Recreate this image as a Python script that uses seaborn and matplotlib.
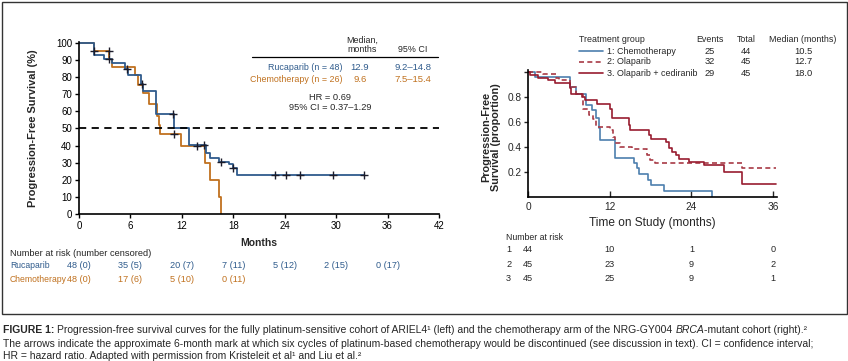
import matplotlib
matplotlib.use("Agg")
import matplotlib.pyplot as plt
import matplotlib.transforms as mtransforms
from matplotlib.lines import Line2D
from matplotlib.patches import Rectangle
import pandas as pd
import seaborn as sns

W, H = 848, 361

# ---- left panel (ARIEL4) ----
RUCA_T = [0, 1.7, 2.9, 3.9, 5.4, 5.7, 7.2, 7.5, 9.0, 11.1, 12.8, 14.8, 15.3, 16.3, 17.5, 18.0, 18.4, 33.3]
RUCA_S = [100, 93, 90.5, 88.5, 85, 81, 76, 72, 58.5, 50.5, 40.5, 35.5, 33, 30.5, 29, 27, 23, 23]
RUCA_CENS_T = [3.5, 5.6, 7.4, 11.0, 14.6, 16.6, 18.0, 22.9, 24.1, 25.8, 29.6, 33.3]
RUCA_CENS_S = [90.5, 85, 76, 58.5, 40.5, 30.5, 27, 23, 23, 23, 23, 23]

CHEMO_T = [0, 1.8, 3.55, 3.9, 6.5, 6.9, 7.5, 8.2, 9.1, 9.3, 9.5, 11.9, 14.7, 15.3, 16.35, 16.6]
CHEMO_S = [100, 95.5, 90.5, 86, 81, 75.5, 70.5, 64.5, 57, 52, 47, 39.5, 30, 20, 10, 0]
CHEMO_CENS_T = [1.8, 3.5, 11.1, 13.8]
CHEMO_CENS_S = [95.5, 95.5, 47, 39.5]

LEFT_XTICKS = [0, 6, 12, 18, 24, 30, 36, 42]
LEFT_YTICKS = list(range(0, 101, 10))
RUCA_RISK = ["48 (0)", "35 (5)", "20 (7)", "7 (11)", "5 (12)", "2 (15)", "0 (17)"]
CHEMO_RISK = ["48 (0)", "17 (6)", "5 (10)", "0 (11)"]

# ---- right panel (NRG-GY004) ----
CT_T = [0, 1.0, 6.1, 7.0, 8.5, 9.3, 10.0, 10.4, 10.6, 12.7, 15.5, 16.0, 16.3, 17.6, 18.1, 20.0, 27.0]
CT_S = [1.0, 0.96, 0.88, 0.82, 0.73, 0.69, 0.63, 0.55, 0.45, 0.31, 0.27, 0.23, 0.18, 0.13, 0.09, 0.045, 0.0]
OLA_T = [0, 2.2, 4.1, 4.5, 6.1, 7.0, 8.0, 8.1, 9.0, 9.5, 10.0, 12.0, 12.5, 12.8, 13.5, 15.2, 17.4, 17.9, 18.6, 31.5, 36.4]
OLA_S = [1.0, 0.98, 0.95, 0.93, 0.88, 0.82, 0.80, 0.70, 0.65, 0.62, 0.56, 0.53, 0.48, 0.43, 0.40, 0.38, 0.33, 0.29, 0.27, 0.23, 0.23]
OC_T = [0, 0.3, 1.5, 2.9, 3.9, 6.1, 6.3, 7.9, 8.3, 10.1, 12.0, 12.3, 14.8, 15.0, 17.7, 18.0, 20.2, 20.7, 21.2,
        21.7, 22.2, 23.6, 25.8, 28.8, 31.4, 36.4]
OC_S = [1.0, 0.97, 0.95, 0.93, 0.91, 0.87, 0.82, 0.80, 0.77, 0.74, 0.70, 0.63, 0.57, 0.53, 0.49, 0.46, 0.44, 0.39,
        0.36, 0.33, 0.30, 0.28, 0.25, 0.20, 0.10, 0.10]

RIGHT_XTICKS = [0, 12, 24, 36]
RIGHT_YTICKS = [0.2, 0.4, 0.6, 0.8, 1.0]
RIGHT_YLABELS = ["0.2", "0.4", "0.6", "0.8", ""]
GROUPS = ["1: Chemotherapy", "2: Olaparib", "3. Olaparib + cediranib"]
EVENTS = ["25", "32", "29"]
TOTALS = ["44", "45", "45"]
MEDIANS = ["10.5", "12.7", "18.0"]
RISK_ROWS = [["44", "10", "1", "0"], ["45", "23", "9", "2"], ["45", "25", "9", "1"]]

BLUE_L = "#2f5b8c"
ORANGE_L = "#c0711f"
BLUE_R = "#4d7fae"
RED_DASH = "#a83a45"
RED_SOLID = "#981c30"


def fx(x):
    return x / W


def fy(y):
    return 1 - y / H


def main():
    sns.set_theme(style="ticks")
    plt.rcParams["font.family"] = ["Liberation Sans", "DejaVu Sans"]
    fig = plt.figure(figsize=(W / 100, H / 100), dpi=100)

    # ================= left panel =================
    ax1 = fig.add_axes([fx(79), fy(214), (439 - 79) / W, (214 - 42) / H])
    left = pd.concat([
        pd.DataFrame({"time": RUCA_T, "surv": RUCA_S, "arm": "Rucaparib"}),
        pd.DataFrame({"time": CHEMO_T, "surv": CHEMO_S, "arm": "Chemotherapy"}),
    ])
    sns.lineplot(data=left, x="time", y="surv", hue="arm",
                 palette={"Rucaparib": BLUE_L, "Chemotherapy": ORANGE_L},
                 hue_order=["Chemotherapy", "Rucaparib"],
                 estimator=None, drawstyle="steps-post", lw=1.3, legend=False, ax=ax1)
    sns.scatterplot(x=RUCA_CENS_T + CHEMO_CENS_T, y=RUCA_CENS_S + CHEMO_CENS_S, marker="+",
                    s=28, color="#1c1c2a", linewidth=1.0, ax=ax1, zorder=4)
    ax1.axhline(50, color="black", ls=(0, (4, 3)), lw=1.3)
    ax1.set_xlim(0, 42)
    ax1.set_ylim(0, 100.5)
    ax1.set_xticks(LEFT_XTICKS)
    ax1.set_yticks(LEFT_YTICKS)
    ax1.tick_params(labelsize=7, length=3, width=1, colors="black", pad=2)
    sns.despine(ax=ax1)
    for s in ("left", "bottom"):
        ax1.spines[s].set_linewidth(1.2)
        ax1.spines[s].set_color("black")
    ax1.set_xlabel("Months", fontsize=7.5, fontweight="bold")
    ax1.xaxis.set_label_coords(0.5, -0.14)
    ax1.set_ylabel("Progression-Free Survival (%)", fontsize=7.9, fontweight="bold")
    ax1.yaxis.set_label_coords(-0.115, 0.5)

    # summary table
    fs = 6.4
    fig.text(fx(362), fy(45), "Median,\nmonths", ha="center", va="center", fontsize=fs,
             linespacing=0.95)
    fig.text(fx(413), fy(50), "95% CI", ha="center", va="center", fontsize=fs)
    fig.add_artist(Line2D([fx(252), fx(438)], [fy(57), fy(57)], color="black", lw=0.9))
    for y, name, med, ci, c in [(68, "Rucaparib (n = 48)", "12.9", "9.2–14.8", BLUE_L),
                                (80, "Chemotherapy (n = 26)", "9.6", "7.5–15.4", ORANGE_L)]:
        fig.text(fx(343), fy(y), name, ha="right", va="center", fontsize=fs, color=c)
        fig.text(fx(360), fy(y), med, ha="center", va="center", fontsize=fs + 0.4, color=c)
        fig.text(fx(413), fy(y), ci, ha="center", va="center", fontsize=fs + 0.4, color=c)
    fig.text(fx(330), fy(97), "HR = 0.69", ha="center", va="center", fontsize=fs + 0.3)
    fig.text(fx(330), fy(108), "95% CI = 0.37–1.29", ha="center", va="center", fontsize=fs + 0.3)

    # number at risk
    tr1 = mtransforms.blended_transform_factory(ax1.transData, fig.transFigure)
    fig.text(fx(10), fy(253), "Number at risk (number censored)", ha="left", va="center", fontsize=6.7)
    fig.text(fx(10), fy(266), "Rucaparib", ha="left", va="center", fontsize=6.2, color=BLUE_L)
    fig.text(fx(10), fy(279), "Chemotherapy", ha="left", va="center", fontsize=6.2, color=ORANGE_L)
    for x, v in zip(LEFT_XTICKS, RUCA_RISK):
        fig.text(x, fy(266), v, transform=tr1, ha="center", va="center", fontsize=6.6, color=BLUE_L)
    for x, v in zip(LEFT_XTICKS, CHEMO_RISK):
        fig.text(x, fy(279), v, transform=tr1, ha="center", va="center", fontsize=6.6, color=ORANGE_L)

    # ================= right panel =================
    ax2 = fig.add_axes([fx(528.3), fy(196.7), 248.8 / W, 126.3 / H])
    for t, s, c, ls in [(CT_T, CT_S, BLUE_R, "-"), (OLA_T, OLA_S, RED_DASH, (0, (3, 2))),
                        (OC_T, OC_S, RED_SOLID, "-")]:
        sns.lineplot(x=t, y=s, color=c, linestyle=ls, estimator=None, drawstyle="steps-post",
                     lw=1.2, ax=ax2)
    ax2.set_xlim(0, 36.6)
    ax2.set_ylim(0, 1.01)
    ax2.set_xticks(RIGHT_XTICKS)
    ax2.set_yticks(RIGHT_YTICKS, RIGHT_YLABELS)
    ax2.tick_params(axis="x", direction="in", length=4, width=1, labelsize=7.3, pad=4)
    ax2.tick_params(axis="y", direction="out", length=3, width=1, labelsize=7.3, pad=2)
    sns.despine(ax=ax2)
    for s in ("left", "bottom"):
        ax2.spines[s].set_linewidth(1.2)
        ax2.spines[s].set_color("black")
    ax2.set_xlabel("Time on Study (months)", fontsize=8.6)
    ax2.xaxis.set_label_coords(0.5, -0.16)
    ax2.set_ylabel("Progression-Free\nSurvival (proportion)", fontsize=7.8, fontweight="bold",
                   linespacing=1.0)
    ax2.yaxis.set_label_coords(-0.11, 0.47)

    # legend table
    fs2 = 6.4
    fig.text(fx(579), fy(40), "Treatment group", ha="left", va="center", fontsize=fs2)
    fig.text(fx(710), fy(40), "Events", ha="center", va="center", fontsize=fs2)
    fig.text(fx(746), fy(40), "Total", ha="center", va="center", fontsize=fs2)
    fig.text(fx(803), fy(40), "Median (months)", ha="center", va="center", fontsize=fs2)
    styles = [(BLUE_R, "-"), (RED_DASH, (0, (3, 2))), (RED_SOLID, "-")]
    for i, (g, e, n, m) in enumerate(zip(GROUPS, EVENTS, TOTALS, MEDIANS)):
        y = 51 + 11 * i
        c, ls = styles[i]
        fig.add_artist(Line2D([fx(579), fx(603)], [fy(y), fy(y)], color=c, ls=ls, lw=1.2))
        fig.text(fx(607), fy(y), g, ha="left", va="center", fontsize=fs2)
        fig.text(fx(710), fy(y), e, ha="center", va="center", fontsize=fs2 + 0.3)
        fig.text(fx(746), fy(y), n, ha="center", va="center", fontsize=fs2 + 0.3)
        fig.text(fx(803), fy(y), m, ha="center", va="center", fontsize=fs2 + 0.3)

    # number at risk
    tr2 = mtransforms.blended_transform_factory(ax2.transData, fig.transFigure)
    fig.text(fx(506), fy(237), "Number at risk", ha="left", va="center", fontsize=6.3)
    for i, row in enumerate(RISK_ROWS):
        y = [252, 267, 281][i]
        fig.text(fx(506), fy(y), str(i + 1), ha="left", va="baseline", fontsize=6.6)
        for x, v in zip(RIGHT_XTICKS, row):
            fig.text(x, fy(y), v, transform=tr2, ha="center", va="baseline", fontsize=6.6)

    # frame around both panels
    fig.add_artist(Rectangle((fx(2), fy(314)), 845 / W, 312 / H, transform=fig.transFigure,
                             fill=False, lw=1.0, edgecolor="#333333"))

    # caption
    renderer = fig.canvas.get_renderer()

    def run_text(x, y, pieces, size=7.5):
        for s, kw in pieces:
            t = fig.text(fx(x), fy(y), s, fontsize=size, va="baseline", **kw)
            x += t.get_window_extent(renderer=renderer).width

    run_text(3, 333, [("FIGURE 1: ", {"fontweight": "bold"}),
                      ("Progression-free survival curves for the fully platinum-sensitive cohort of ARIEL4¹ "
                       "(left) and the chemotherapy arm of the NRG-GY004 ", {}),
                      ("BRCA", {"style": "italic"}),
                      ("-mutant cohort (right).²", {})])
    run_text(3, 347, [("The arrows indicate the approximate 6-month mark at which six cycles of platinum-based "
                       "chemotherapy would be discontinued (see discussion in text). CI = confidence interval;",
                       {})])
    run_text(3, 359, [("HR = hazard ratio. Adapted with permission from Kristeleit et al¹ and Liu et al.²", {})])

    fig.savefig("out.png", dpi=100)
    plt.close(fig)


if __name__ == "__main__":
    main()
